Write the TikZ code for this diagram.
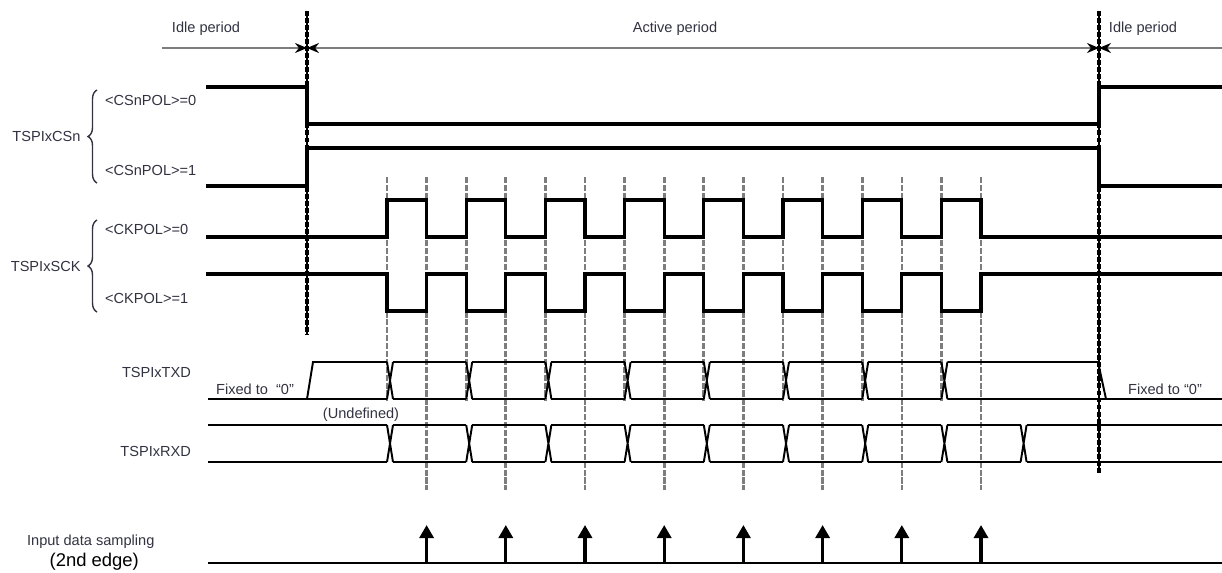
\documentclass[tikz,border=0pt]{standalone}
\usepackage{fontspec}
\setmainfont{Liberation Sans}
\usetikzlibrary{arrows.meta, positioning, calc, decorations.pathreplacing}

\definecolor{labelgray}{RGB}{50,50,65}
\definecolor{guidegray}{RGB}{125,125,125}

\begin{document}
\begin{tikzpicture}[
    x=0.02cm, y=-0.02cm,
    lbl/.style={font=\fontsize{8.3}{10}\selectfont, text=labelgray, inner sep=1pt},
    signal/.style={line width=1.9pt, line join=miter, line cap=rect},
    bus/.style={line width=1.1pt, line join=miter},
    guide/.style={guidegray, line width=1.5pt, dash pattern=on 3.5pt off 1pt},
    marker/.style={line width=1.8pt, dash pattern=on 2.8pt off 1.2pt,
        postaction={draw, solid, line width=0.6pt}},
    period/.style={guidegray, line width=0.9pt,
        >={Stealth[length=0.24cm, width=0.2cm, color=black]}},
    brace/.style={decorate, decoration={brace, amplitude=0.18cm}, line width=0.8pt, labelgray},
    sample/.style={line width=1.8pt, -{Triangle[length=0.26cm, width=0.28cm]}},
]
\useasboundingbox (0,0) rectangle (1222,572);

% Period boundaries
\coordinate (begin) at (307,48);
\coordinate (end) at (1099,48);
\coordinate (far left) at (162,48);
\coordinate (far right) at (1222,48);
\draw[marker] (307,11) -- (307,335);
\draw[marker] (1099,11) -- (1099,473);
\draw[period, ->] (far left) -- (begin);
\draw[period, <->] (begin) -- (end);
\draw[period, <-] (end) -- (far right);
\node[lbl] (idle1) at (206,29) {Idle period};
\node[lbl] (active) at (675,29) {Active period};
\node[lbl] (idle2) at (1143,29) {Idle period};

% Clock edge guides
\foreach \k in {0,2,...,14}
    \draw[guide] ({387+39.6*\k},177) -- ({387+39.6*\k},401);
\foreach \k in {1,3,...,15}
    \draw[guide] ({387+39.6*\k},177) -- ({387+39.6*\k},490);

% TSPIxCSn
\draw[signal] (208,87) -- (307,87) -- (307,124) -- (1099,124) -- (1099,87) -- (1222,87);
\draw[signal] (208,186) -- (307,186) -- (307,148) -- (1099,148) -- (1099,186) -- (1222,186);
\node[lbl, anchor=west] (cspol0) at (103,100) {<CSnPOL>=0};
\node[lbl, anchor=west] (cspol1) at (103,170) {<CSnPOL>=1};
\draw[brace] (97,183) -- (97,90) node[midway, left=0.28cm, lbl] (csn) {TSPIxCSn};

% TSPIxSCK
\draw[signal] (208,237) -- (387,237)
    foreach \k in {0,...,7} {
        -- ({387+79.2*\k},200) -- ({426.6+79.2*\k},200)
        -- ({426.6+79.2*\k},237) -- ({466.2+79.2*\k},237)
    } -- (1222,237);
\draw[signal] (208,274) -- (387,274)
    foreach \k in {0,...,7} {
        -- ({387+79.2*\k},311) -- ({426.6+79.2*\k},311)
        -- ({426.6+79.2*\k},274) -- ({466.2+79.2*\k},274)
    } -- (1222,274);
\node[lbl, anchor=west] (ckpol0) at (103,229) {<CKPOL>=0};
\node[lbl, anchor=west] (ckpol1) at (103,298) {<CKPOL>=1};
\draw[brace] (97,312) -- (97,220) node[midway, left=0.28cm, lbl] (sck) {TSPIxSCK};

% TSPIxTXD
\draw[bus] (208,399) -- (387,399) (307,399) -- (313,362) -- (387,362);
\foreach \j in {0,...,7}
    \draw[bus] ({387+79.2*\j},362) -- ++(6,37) ({387+79.2*\j},399) -- ++(6,-37);
\foreach \j in {0,...,6}
    \draw[bus] ({393+79.2*\j},362) -- ({466.2+79.2*\j},362)
               ({393+79.2*\j},399) -- ({466.2+79.2*\j},399);
\draw[bus] (947.4,362) -- (1098,362) -- (1106,399) (947.4,399) -- (1222,399);
\node[lbl, anchor=east] (txd) at (193,372) {TSPIxTXD};
\node[lbl, anchor=west] (fixed1) at (214,389) {Fixed to \ “0”};
\node[lbl, anchor=west] (fixed2) at (1126,389) {Fixed to “0”};

% TSPIxRXD
\draw[bus] (208,425) -- (387,425) (208,462) -- (387,462);
\foreach \j in {0,...,8}
    \draw[bus] ({387+79.2*\j},425) -- ++(6,37) ({387+79.2*\j},462) -- ++(6,-37);
\foreach \j in {0,...,7}
    \draw[bus] ({393+79.2*\j},425) -- ({466.2+79.2*\j},425)
               ({393+79.2*\j},462) -- ({466.2+79.2*\j},462);
\draw[bus] (1026.6,425) -- (1222,425) (1026.6,462) -- (1222,462);
\node[lbl, anchor=east] (rxd) at (193,451) {TSPIxRXD};
\node[lbl] (undef) at (361,415) {(Undefined)};

% Input data sampling
\draw[bus] (208,563) -- (1222,563);
\foreach \k in {1,3,...,15}
    \draw[sample] ({387+39.6*\k},563) -- ({387+39.6*\k},525);
\node[lbl, anchor=west] (sampling) at (25,542) {Input data sampling};
\node[lbl, font=\fontsize{10.5}{12}\selectfont, text=black, below=0pt of sampling, xshift=2pt] (edge) {(2nd edge)};

\end{tikzpicture}
\end{document}
